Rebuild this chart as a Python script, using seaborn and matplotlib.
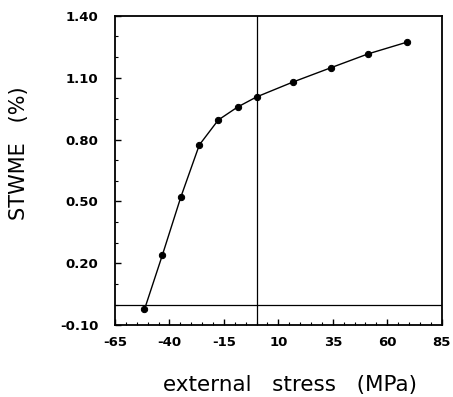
import matplotlib
matplotlib.use("Agg")
import matplotlib.pyplot as plt
from matplotlib.ticker import MultipleLocator
import seaborn as sns
import pandas as pd

stress = [-51.5, -43.3, -34.8, -26.3, -17.6, -8.7, 0.0, 16.9, 34.0, 51.3, 68.9]
stwme = [-0.024, 0.239, 0.521, 0.774, 0.895, 0.958, 1.007, 1.080, 1.148, 1.216, 1.272]
xticks = [-65, -40, -15, 10, 35, 60, 85]
yticks = [-0.10, 0.20, 0.50, 0.80, 1.10, 1.40]
xticklabels = ["-65", "-40", "-15", "10", "35", "60", "85"]
yticklabels = ["-0.10", "0.20", "0.50", "0.80", "1.10", "1.40"]

sns.set_style("ticks")
plt.rcParams['font.family'] = ['DejaVu Sans']
plt.rcParams['text.color'] = 'black'
plt.rcParams['axes.labelcolor'] = 'black'
plt.rcParams['xtick.color'] = 'black'
plt.rcParams['ytick.color'] = 'black'

df = pd.DataFrame({"stress": stress, "stwme": stwme})

fig = plt.figure(figsize=(4.53, 3.97), dpi=100)
ax = fig.add_axes([0.254, 0.181, 0.721, 0.779])
sns.lineplot(data=df, x="stress", y="stwme", ax=ax, color="black",
             linewidth=1.0, marker="o", markersize=4.5, markeredgecolor="black")
ax.axvline(0, color="black", linewidth=0.9)
ax.axhline(0, color="black", linewidth=0.9)

ax.set_xlim(-65, 85)
ax.set_ylim(-0.10, 1.40)
ax.set_xticks(xticks)
ax.set_xticklabels(xticklabels, fontsize=9.5, fontweight="bold", color="black")
ax.set_yticks(yticks)
ax.set_yticklabels(yticklabels, fontsize=9.5, fontweight="bold", color="black")
ax.xaxis.set_minor_locator(MultipleLocator(5))
ax.yaxis.set_minor_locator(MultipleLocator(0.1))
ax.tick_params(which="both", direction="in", top=False, right=False)
ax.tick_params(which="major", length=4, width=1)
ax.tick_params(axis="x", which="major", pad=8)
ax.tick_params(axis="y", which="major", pad=12)
ax.tick_params(which="minor", length=2, width=0.8)
for s in ax.spines.values():
    s.set_linewidth(1.3)
    s.set_color("black")

ax.set_xlabel("external   stress   (MPa)", fontsize=15.5, color="black")
ax.xaxis.set_label_coords(0.535, -0.16)
ax.set_ylabel("STWME   (%)", fontsize=15, color="black")
ax.yaxis.set_label_coords(-0.265, 0.557)

fig.savefig("out.png", dpi=100)
